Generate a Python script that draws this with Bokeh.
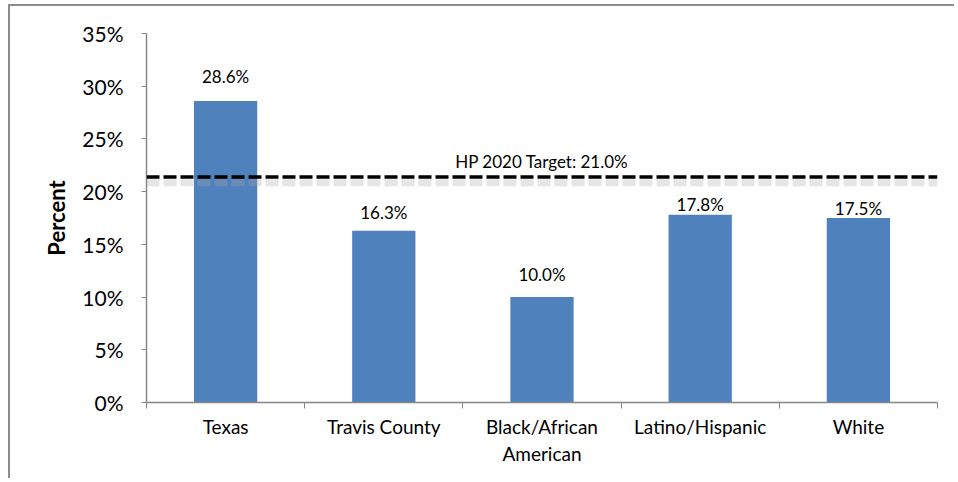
from bokeh.plotting import figure
from bokeh.models import ColumnDataSource, FixedTicker, PrintfTickFormatter, Span, Range1d
from bokeh.core.properties import value
from bokeh.embed import file_html
from bokeh.resources import INLINE

categories = ["Texas", "Travis County", "Black/African\nAmerican", "Latino/Hispanic", "White"]
percents = [28.6, 16.3, 10.0, 17.8, 17.5]
value_labels = ["28.6%", "16.3%", "10.0%", "17.8%", "17.5%"]
y_ticks = [0, 5, 10, 15, 20, 25, 30, 35]
target_value = 21.0
target_label = "HP 2020 Target: 21.0%"
target_line_drawn = 21.4  # where the line sits in the picture

# styling: pixel offsets of value labels above bars
label_offsets = [-24, -18, -23, -10, -10]

FONT = "Lato"
BAR = "#4F81BD"
AXIS = "#868686"

n = len(categories)
xs = [i + 0.5 for i in range(n)]

p = figure(width=946, height=474, output_backend="svg", toolbar_location=None,
           x_range=Range1d(0, n), y_range=Range1d(0, 35),
           min_border_left=136, min_border_right=19, min_border_top=27, min_border_bottom=78)
p.styles = {"border-left": "2px solid #8c8c8c", "border-top": "2px solid #8c8c8c",
            "margin-left": "8px", "margin-top": "4px"}
p.outline_line_color = None
p.xgrid.grid_line_color = None
p.ygrid.grid_line_color = None
p.background_fill_color = "white"
p.border_fill_color = "white"

src = ColumnDataSource(dict(x=xs, top=percents, label=value_labels, off=label_offsets))
p.vbar(x="x", top="top", width=0.4, bottom=0, source=src, fill_color=BAR, line_color=None)
p.text(x="x", y="top", text="label", y_offset="off", source=src, text_align="center",
       text_baseline="middle", text_font=value(FONT), text_font_size="17px", text_color="black")

# target line with soft shadow
p.add_layout(Span(location=target_line_drawn - 0.55, dimension="width", line_color="#aaaaaa",
                  line_alpha=0.3, line_width=7, line_dash="13 4"))
p.add_layout(Span(location=target_line_drawn, dimension="width", line_color="black",
                  line_width=3.5, line_dash="13 4"))
p.text(x=[n / 2], y=[target_line_drawn], text=[target_label], y_offset=-15,
       text_align="center", text_baseline="middle", text_font=value(FONT),
       text_font_size="17px", text_color="black")

# x axis
xa = p.xaxis[0]
xa.ticker = FixedTicker(ticks=xs, minor_ticks=list(range(n + 1)))
xa.major_label_overrides = {x: c for x, c in zip(xs, categories)}
xa.major_tick_out = 0
xa.major_tick_in = 0
xa.minor_tick_out = 6
xa.minor_tick_in = 0
xa.minor_tick_line_color = AXIS
xa.axis_line_color = AXIS
xa.axis_line_width = 1.5
xa.major_label_standoff = 6
xa.major_label_text_font = FONT
xa.major_label_text_font_size = "19px"
xa.major_label_text_color = "black"

# y axis
ya = p.yaxis[0]
ya.ticker = FixedTicker(ticks=y_ticks, minor_ticks=[])
ya.formatter = PrintfTickFormatter(format="%d%%")
ya.major_tick_out = 5
ya.major_tick_in = 0
ya.major_tick_line_color = AXIS
ya.axis_line_color = AXIS
ya.axis_line_width = 1.5
ya.major_label_standoff = 18
ya.major_label_text_font = FONT
ya.major_label_text_font_size = "21px"
ya.major_label_text_color = "black"
ya.axis_label = "Percent"
ya.axis_label_text_font = FONT
ya.axis_label_text_font_style = "bold"
ya.axis_label_text_font_size = "22px"
ya.axis_label_text_color = "black"
ya.axis_label_standoff = 9

open("out.html", "w").write(file_html(p, INLINE))
